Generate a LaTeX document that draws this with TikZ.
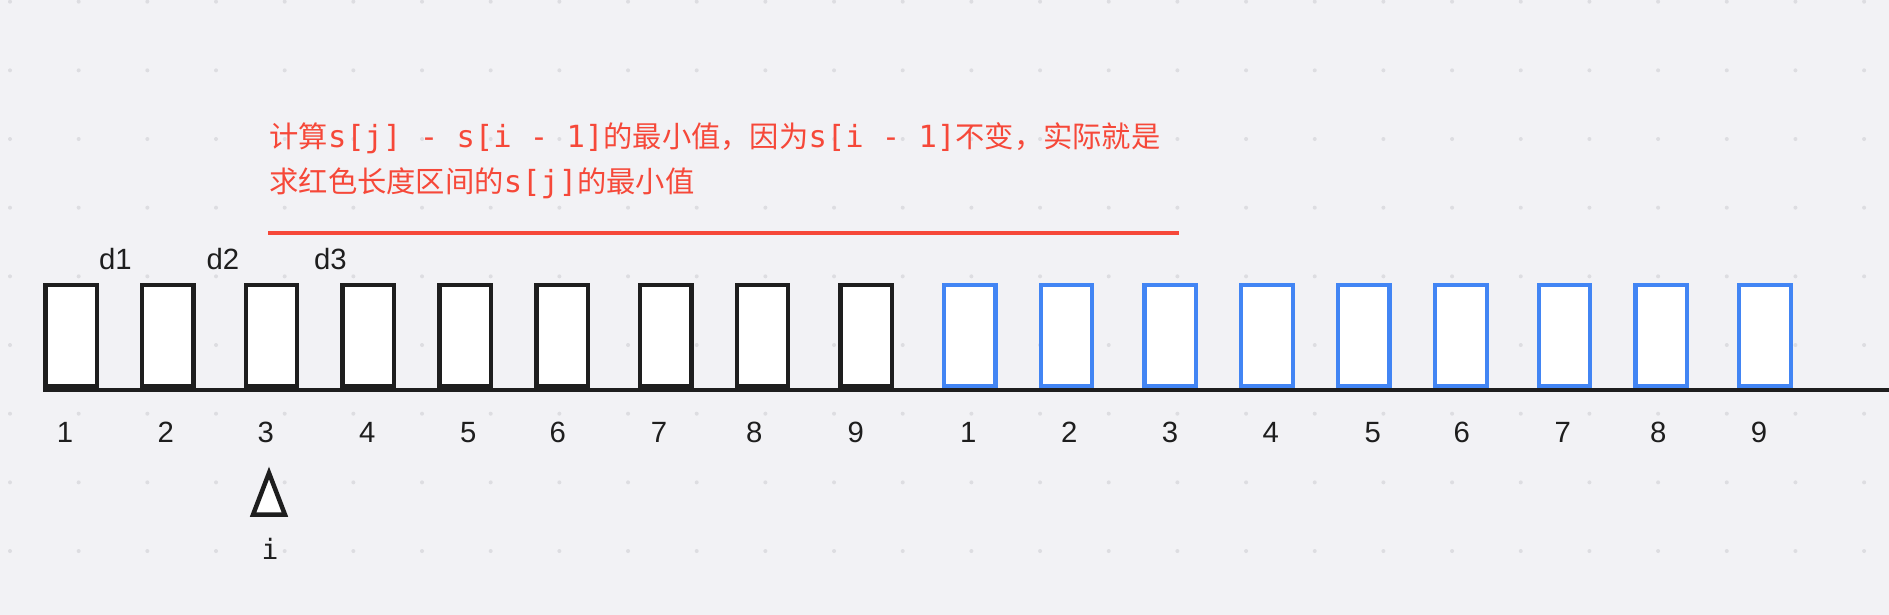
\documentclass[tikz,border=0pt]{standalone}
\usepackage{fontspec}
\setmainfont{Liberation Sans}
\newfontfamily\cjkfont{Noto Sans CJK SC}
\newfontfamily\monofont{DejaVu Sans Mono}
\definecolor{bg}{RGB}{242,242,245}
\definecolor{dotc}{RGB}{221,221,225}
\definecolor{ink}{RGB}{30,30,30}
\definecolor{blu}{RGB}{66,133,244}
\definecolor{redc}{RGB}{246,72,57}
\newcommand{\cj}[1]{{\cjkfont\fontsize{14.65pt}{18pt}\selectfont #1}}
\newcommand{\mo}[1]{{\monofont\fontsize{15.25pt}{18pt}\selectfont #1}}
\begin{document}
\begin{tikzpicture}[x=0.5pt,y=-0.5pt,
  box/.style={draw=ink,fill=white,line width=2.15pt,minimum width=25.7pt,minimum height=50.65pt,inner sep=0pt,outer sep=0pt},
  bbox/.style={box,draw=blu},
  num/.style={font=\fontsize{14.65pt}{17pt}\selectfont,text=ink,anchor=base,inner sep=0pt},
  redtext/.style={text=redc,anchor=base west,inner sep=0pt},
  axisline/.style={draw=ink,line width=2pt},
  redline/.style={draw=redc,line width=2pt},
  marker/.style={draw=ink,fill=white,line width=2.25pt,line join=miter}]
\useasboundingbox (0,0) rectangle (1889,615);
\fill[bg] (0,0) rectangle (1889,615);
\foreach \i in {0,...,27}{
  \foreach \j in {0,...,8}{
    \fill[dotc] (10+68.67*\i,1.67+68.67*\j) circle (2);
  }
}
% text
\node[redtext] (t1) at (269,147.7) {\cj{计算}\mo{s[j] - s[i - 1]}\cj{的最小值，因为}\mo{s[i - 1]}\cj{不变，实际就是}};
\node[redtext] (t2) at (269,192.7) {\cj{求红色长度区间的}\mo{s[j]}\cj{的最小值}};
\coordinate (rL) at (268.3,233);
\coordinate (rR) at (1178.7,233);
\draw[redline] (rL) -- (rR);
% d labels
\node[num] (d1) at (115.3,269.3) {d1};
\node[num] (d2) at (223,269.3) {d2};
\node[num] (d3) at (330.5,269.3) {d3};
% boxes
\foreach \n/\x in {1/71.2,2/167.8,3/271.5,4/368.2,5/465.2,6/562.2,7/665.7,8/762.5,9/866.2}
  \node[box] (b\n) at (\x,335.5) {};
\foreach \n/\x in {1/969.8,2/1066.5,3/1170.2,4/1267,5/1363.8,6/1461,7/1564.5,8/1661.2,9/1765}
  \node[bbox] (c\n) at (\x,335.5) {};
\coordinate (axisL) at (43.3,390.3);
\coordinate (axisR) at (1889,390.3);
\draw[axisline] (axisL) -- (axisR);
% numbers
\foreach \n/\x in {1/65,2/165.7,3/265.7,4/367.3,5/468.3,6/557.7,7/659,8/754.3,9/855.7}
  \node[num] (lb\n) at (\x,442.7) {\n};
\foreach \n/\x in {1/968.3,2/1069.3,3/1170,4/1270.7,5/1372.7,6/1461.7,7/1562.7,8/1658.3,9/1759}
  \node[num] (lc\n) at (\x,442.7) {\n};
% pointer
\draw[marker] (269,473) -- (253.1,514.5) -- (284.9,514.5) -- cycle;
\node[text=ink,anchor=base,inner sep=0pt,font=\monofont\fontsize{14pt}{17pt}\selectfont] (iv) at (270,559) {i};
\end{tikzpicture}
\end{document}
